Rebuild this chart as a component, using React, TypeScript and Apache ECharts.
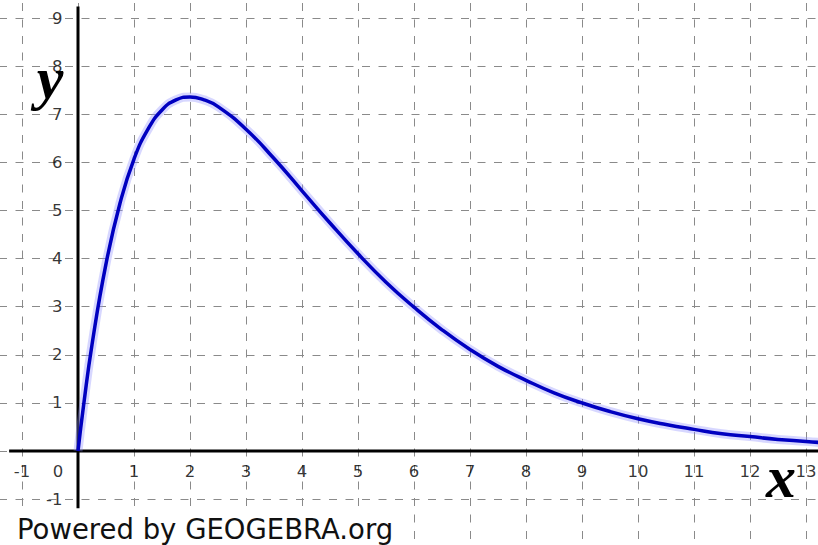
import React, { useEffect, useRef } from "react";
import * as echarts from "echarts";

// Curve sample points
const curveX = [0, 0.1, 0.25, 0.5, 0.75, 1, 1.25, 1.5, 1.75, 2, 2.25, 2.5, 3, 3.5, 4, 4.5, 5, 5.5, 6, 6.5, 7, 7.5, 8, 8.5, 9, 9.5, 10, 10.5, 11, 11.5, 12, 12.5, 13, 13.3];
const curveY = [0, 0.95, 2.21, 3.89, 5.15, 6.07, 6.69, 7.09, 7.3, 7.36, 7.3, 7.16, 6.69, 6.08, 5.41, 4.74, 4.1, 3.51, 2.99, 2.52, 2.11, 1.76, 1.47, 1.21, 1.0, 0.82, 0.67, 0.55, 0.45, 0.36, 0.3, 0.24, 0.2, 0.17];

// Visible drawn axis segments (in data units)
const xAxisSeg = [[-1.23, 0], [13.3, 0]];
const yAxisSeg = [[0, 9.24], [0, -1.19]];

// Tick labels shown
const xTickLabels = [-1, 0, 1, 2, 3, 4, 5, 6, 7, 8, 9, 10, 11, 12, 13];
const yTickLabels = [-1, 1, 2, 3, 4, 5, 6, 7, 8, 9];

const curveData = curveX.map((x, i) => [x, curveY[i]]);

export default function App() {
  const ref = useRef<HTMLDivElement>(null);
  useEffect(() => {
    const chart = echarts.init(ref.current!, undefined, { renderer: "svg" });
    const grid = { lineStyle: { color: "#8a8a8a", width: 1, type: [8, 8.5] as any } };
    chart.setOption({
      animation: false,
      backgroundColor: "#ffffff",
      grid: {
        left: -34,
        right: -44,
        top: -30,
        bottom: -2.2,
        containLabel: false,
        outerBoundsMode: "none",
      },
      xAxis: {
        type: "value",
        min: -2,
        max: 14,
        interval: 1,
        axisLine: { show: false },
        axisTick: { show: false },
        axisLabel: { show: false },
        splitLine: { show: true, ...grid },
      },
      yAxis: {
        type: "value",
        min: -2,
        max: 10,
        interval: 1,
        axisLine: { show: false },
        axisTick: { show: false },
        axisLabel: { show: false },
        splitLine: { show: true, ...grid },
      },
      series: [
        {
          type: "line",
          data: xAxisSeg,
          symbol: "none",
          lineStyle: { color: "#000", width: 3 },
          silent: true,
          z: 3,
        },
        {
          type: "line",
          data: yAxisSeg,
          symbol: "none",
          lineStyle: { color: "#000", width: 3 },
          silent: true,
          z: 3,
        },
        {
          type: "line",
          data: curveData,
          smooth: true,
          symbol: "none",
          lineStyle: { color: "rgba(140,140,255,0.35)", width: 9 },
          silent: true,
          z: 4,
        },
        {
          type: "line",
          data: curveData,
          smooth: true,
          symbol: "none",
          lineStyle: { color: "#0000c0", width: 3.5 },
          silent: true,
          z: 5,
        },
        {
          type: "scatter",
          silent: true,
          symbol: "circle",
          symbolSize: 1,
          itemStyle: { color: "transparent" },
          z: 6,
          data: xTickLabels.map((v) =>
            v === 0
              ? { value: [v, 0], label: { offset: [-20, 0], fontSize: 16.5 } }
              : { value: [v, 0] }
          ),
          label: {
            show: true,
            position: "bottom",
            distance: 11.5,
            color: "#000",
            fontFamily: "DejaVu Sans",
            fontSize: 16.5,
            formatter: (p: any) => String(p.value[0]),
          },
        },
        {
          type: "scatter",
          silent: true,
          symbol: "circle",
          symbolSize: 1,
          itemStyle: { color: "transparent" },
          z: 6,
          data: yTickLabels.map((v) => [0, v]),
          label: {
            show: true,
            position: "left",
            distance: 15,
            color: "#000",
            fontFamily: "DejaVu Sans",
            fontSize: 16.5,
            formatter: (p: any) => String(p.value[1]),
          },
        },
      ],
      graphic: [
        {
          type: "rect",
          shape: { x: 0, y: 511, width: 398, height: 40 },
          style: { fill: "#ffffff" },
          z: 10,
        },
        {
          type: "text",
          x: 17,
          y: 529,
          style: {
            text: "Powered by GEOGEBRA.org",
            font: "27.5px 'DejaVu Sans'",
            fill: "#111",
            align: "left",
            verticalAlign: "middle",
          },
          z: 11,
        },
        {
          type: "text",
          x: 50,
          y: 78,
          style: {
            text: "y",
            font: "italic bold 60px 'Liberation Serif'",
            fill: "#000",
            align: "center",
            verticalAlign: "middle",
          },
          z: 11,
        },
        {
          type: "text",
          x: 781,
          y: 477,
          style: {
            text: "x",
            font: "italic bold 60px 'Liberation Serif'",
            fill: "#000",
            align: "center",
            verticalAlign: "middle",
          },
          z: 11,
        },
      ],
    });
    return () => chart.dispose();
  }, []);
  return (
    <div
      ref={ref}
      style={{ position: "fixed", left: 0, top: 0, width: 818, height: 545 }}
    />
  );
}
